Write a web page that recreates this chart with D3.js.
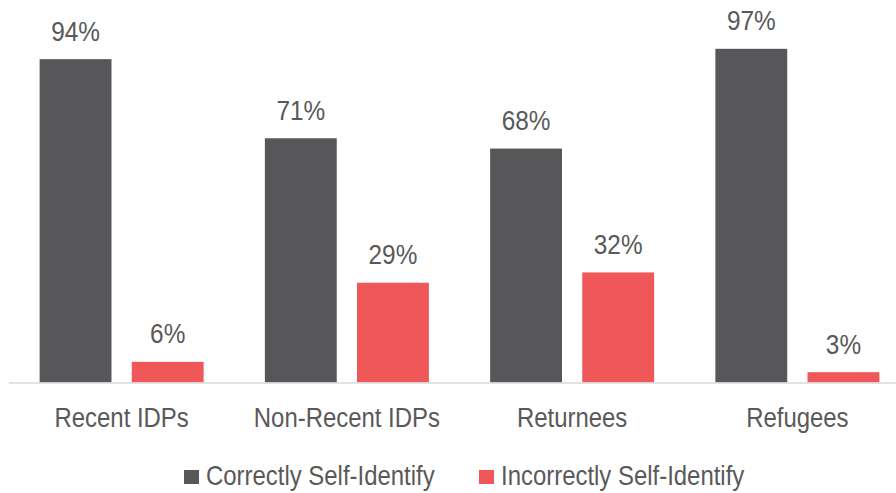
<!DOCTYPE html>
<html>
<head>
<meta charset="utf-8">
<script src="https://cdn.jsdelivr.net/npm/d3@7"></script>
<style>
  body { margin: 0; background: #fff; }
  text { font-family: "Liberation Sans Narrow", "Arial Narrow", "Liberation Sans", sans-serif; fill: #595959; }
</style>
</head>
<body>
<div id="chart"></div>
<script>
var categories = ["Recent IDPs", "Non-Recent IDPs", "Returnees", "Refugees"];
var seriesNames = ["Correctly Self-Identify", "Incorrectly Self-Identify"];
var correctly = [94, 71, 68, 97];
var incorrectly = [6, 29, 32, 3];
var colors = ["#575759", "#EF5759"];

var width = 896, height = 493;
var narrow = 0.87; // no narrow font installed, squeeze the regular one
var svg = d3.select("#chart").append("svg")
    .attr("width", width)
    .attr("height", height);

function place(x, yy){
    return "translate(" + x + "," + yy + ") scale(" + narrow + ",1)";
}

var x0 = d3.scaleBand()
    .domain(categories)
    .range([9, 910]);

var x1 = d3.scaleBand()
    .domain(seriesNames)
    .range([x0.bandwidth() / 2 - 82, x0.bandwidth() / 2 + 82])
    .paddingInner(0.22);

var y = d3.scaleLinear()
    .domain([0, 100])
    .range([382.5, 38.5]);

var rows = categories.map(function(c, i){
    return {cat: c, values: [correctly[i], incorrectly[i]]};
});

var groups = svg.selectAll(".group")
    .data(rows)
    .enter().append("g")
    .attr("class", "group")
    .attr("transform", function(d){ return "translate(" + x0(d.cat) + ",0)"; });

groups.selectAll("rect")
    .data(function(d){ return d.values.map(function(v, j){ return {s: seriesNames[j], v: v, j: j}; }); })
    .enter().append("rect")
    .attr("x", function(d){ return x1(d.s); })
    .attr("y", function(d){ return y(d.v); })
    .attr("width", x1.bandwidth())
    .attr("height", function(d){ return y(0) - y(d.v); })
    .attr("fill", function(d){ return colors[d.j]; });

groups.selectAll(".val")
    .data(function(d){ return d.values.map(function(v, j){ return {s: seriesNames[j], v: v}; }); })
    .enter().append("text")
    .attr("class", "val")
    .attr("transform", function(d){ return place(x1(d.s) + x1.bandwidth() / 2, y(d.v) - 18.5); })
    .attr("text-anchor", "middle")
    .attr("font-size", 28)
    .text(function(d){ return d.v + "%"; });

// baseline
svg.append("line")
    .attr("x1", 9).attr("x2", 896)
    .attr("y1", y(0) + 0.5).attr("y2", y(0) + 0.5)
    .attr("stroke", "#d9d9d9")
    .attr("stroke-width", 1.5);

// category labels
svg.selectAll(".cat")
    .data(categories)
    .enter().append("text")
    .attr("class", "cat")
    .attr("transform", function(d){ return place(x0(d) + x0.bandwidth() / 2, 427); })
    .attr("text-anchor", "middle")
    .attr("font-size", 27.5)
    .text(function(d){ return d; });

// legend
var legendX = [184, 479];
var legend = svg.selectAll(".legend")
    .data(seriesNames)
    .enter().append("g")
    .attr("class", "legend")
    .attr("transform", function(d, i){ return "translate(" + legendX[i] + ",470)"; });

legend.append("rect")
    .attr("width", 15).attr("height", 14)
    .attr("fill", function(d, i){ return colors[i]; });

legend.append("text")
    .attr("transform", place(22, 15))
    .attr("font-size", 27.5)
    .text(function(d){ return d; });
</script>
</body>
</html>
